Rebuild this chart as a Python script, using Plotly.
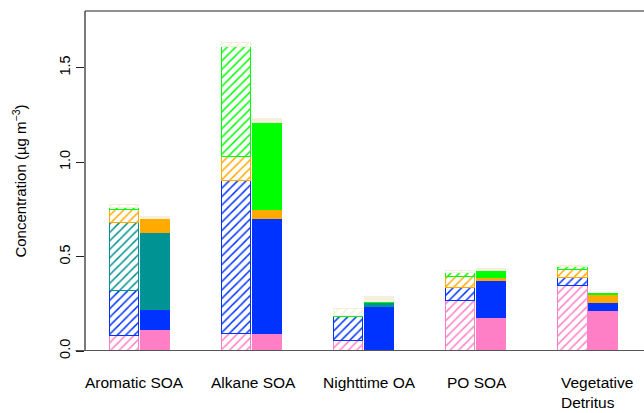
import plotly.graph_objects as go

# OA source categories (one hatched + one solid stacked bar each)
categories = ["Aromatic SOA", "Alkane SOA", "Nighttime OA", "PO SOA", "Vegetative<br>Detritus"]

# Stacked component concentrations (ug m-3), bottom to top
pink_hatched = [0.080, 0.090, 0.055, 0.267, 0.346]
pink_solid = [0.110, 0.090, 0.000, 0.177, 0.212]
blue_hatched = [0.240, 0.810, 0.127, 0.066, 0.043]
blue_solid = [0.107, 0.610, 0.235, 0.196, 0.044]
teal_hatched = [0.358, 0.000, 0.000, 0.000, 0.000]
teal_solid = [0.410, 0.000, 0.021, 0.000, 0.000]
orange_hatched = [0.069, 0.128, 0.000, 0.057, 0.040]
orange_solid = [0.073, 0.047, 0.000, 0.012, 0.041]
green_hatched = [0.011, 0.581, 0.005, 0.025, 0.014]
green_solid = [0.000, 0.460, 0.005, 0.039, 0.004]
cream_hatched = [0.016, 0.021, 0.035, 0.011, 0.007]
cream_solid = [0.010, 0.020, 0.024, 0.009, 0.000]

y_ticks = [0.0, 0.5, 1.0, 1.5]

layers = [
    ("#FF7FC6", pink_hatched, pink_solid),
    ("#0033FF", blue_hatched, blue_solid),
    ("#009393", teal_hatched, teal_solid),
    ("#FFAA00", orange_hatched, orange_solid),
    ("#00FF00", green_hatched, green_solid),
    ("#F3F1DC", cream_hatched, cream_solid),
]

offset = 0.136
bar_w = 0.263
n = len(categories)
x_pos = [i - offset for i in range(n)] + [i + offset for i in range(n)]
shapes_pat = ["/"] * n + [""] * n

fig = go.Figure()
for color, hatched, solid in layers:
    vals = list(hatched) + list(solid)
    xs = [x for x, v in zip(x_pos, vals) if v > 0]
    ys = [v for v in vals if v > 0]
    pats = [p for p, v in zip(shapes_pat, vals) if v > 0]
    fig.add_trace(go.Bar(
        x=xs, y=ys, width=bar_w,
        marker=dict(
            color=color,
            line=dict(color=color, width=1),
            pattern=dict(shape=pats, fgcolor=color, bgcolor="white",
                         size=6, solidity=0.25, fillmode="replace"),
        ),
        showlegend=False, hoverinfo="skip",
    ))

label_font = dict(family="Liberation Sans, Arial, sans-serif", size=15.5, color="black")
label_shift = [-5, 2, 5, 1, 9]
for i, (lab, dx) in enumerate(zip(categories, label_shift)):
    fig.add_annotation(
        x=i, y=0, xref="x", yref="y", yanchor="top", xanchor="center",
        yshift=-21, xshift=dx, text=lab, showarrow=False, align="left",
        font=label_font,
    )

# frame: top, left, and baseline (extended to the left past the axis)
fig.add_shape(type="line", xref="paper", yref="paper", x0=0, x1=1, y0=1, y1=1,
              line=dict(color="#222", width=1.2))
fig.add_shape(type="line", xref="paper", yref="paper", x0=0, x1=0, y0=0, y1=1,
              line=dict(color="#222", width=1.2))
fig.add_shape(type="line", xref="paper", yref="y", x0=-0.017, x1=1, y0=0, y1=0,
              line=dict(color="#555", width=2))

fig.update_layout(
    width=644, height=413,
    margin=dict(l=85, r=0, t=11, b=62),
    paper_bgcolor="white", plot_bgcolor="white",
    barmode="stack", bargap=0,
    font=dict(family="Liberation Sans, Arial, sans-serif", size=15, color="black"),
    xaxis=dict(range=[-0.491, 4.5], showticklabels=False, showgrid=False,
               zeroline=False, ticks="", showline=False),
    yaxis=dict(range=[0, 1.8], tickvals=y_ticks,
               ticktext=[f"{v:.1f}" for v in y_ticks],
               ticks="outside", ticklen=8, tickcolor="#222", tickwidth=1,
               tickangle=-90, showgrid=False, zeroline=False, showline=False,
               tickfont=dict(size=14.5),
               title=dict(text="Concentration (µg m<sup>−3</sup>)", standoff=26,
                          font=dict(size=15))),
)

fig.write_html("out.html")
